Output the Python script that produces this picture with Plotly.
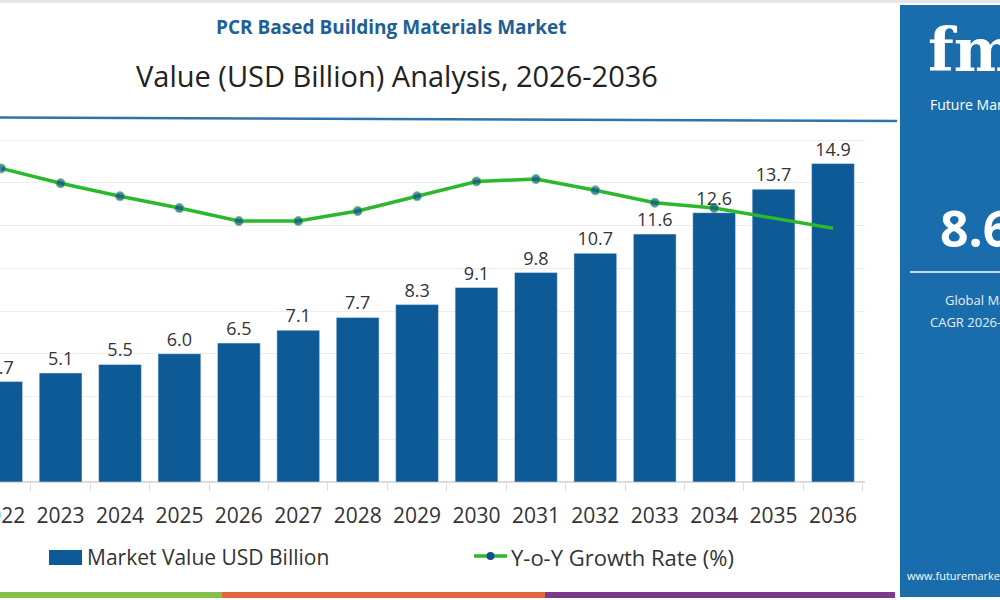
import plotly.graph_objects as go

years = [str(y) for y in range(2022, 2037)]
market_value = [4.7, 5.1, 5.5, 6.0, 6.5, 7.1, 7.7, 8.3, 9.1, 9.8, 10.7, 11.6, 12.6, 13.7, 14.9]
yoy_growth = [9.30, 9.05, 8.83, 8.63, 8.41, 8.41, 8.58, 8.83, 9.08, 9.12, 8.93, 8.72, 8.63, 8.46, 8.29]
value_labels = [f"{v:.1f}" for v in market_value]

title_text = "PCR Based Building Materials Market"
subtitle_text = "Value (USD Billion) Analysis, 2026-2036"
legend_bar = "Market Value USD Billion"
legend_line = "Y-o-Y Growth Rate (%)"
cagr_text = "8.6%"

BAR = "#0e5a97"
GREEN = "#2cb82c"
MARK = "#0c4f8c"
PANEL = "#1a6dac"
FONT = "Open Sans, Noto Sans, sans-serif"

W, H = 1000, 600
def py(y):
    return 1 - y / H
def px(x):
    return x / W

fig = go.Figure()
fig.add_trace(go.Bar(
    x=years, y=market_value, marker_color=BAR, name=legend_bar,
    text=value_labels, textposition="outside", cliponaxis=False,
    textfont=dict(size=18, color="#333333", family=FONT),
    showlegend=False,
))
marker_sizes = [9] * 13 + [0, 0]
fig.add_trace(go.Scatter(
    x=years, y=yoy_growth, yaxis="y2", mode="lines+markers", name=legend_line,
    line=dict(color=GREEN, width=3.5),
    marker=dict(color=MARK, size=marker_sizes),
    showlegend=False,
))

shapes = []
shapes.append(dict(type="line", xref="paper", yref="paper", x0=0, x1=px(897),
                   y0=py(117.5), y1=py(121), line=dict(color="#2f73ad", width=2.5)))
shapes.append(dict(type="rect", xref="paper", yref="paper", x0=0, x1=1, y0=py(3), y1=1,
                   fillcolor="#e6e6e6", line_width=0, layer="below"))
shapes.append(dict(type="rect", xref="paper", yref="paper", x0=px(900), x1=1.01,
                   y0=py(597), y1=py(5), fillcolor=PANEL, line_width=0))
shapes.append(dict(type="line", xref="paper", yref="paper", x0=px(910), x1=1.01,
                   y0=py(272), y1=py(272), line=dict(color="#c9dcec", width=2)))
for x0, x1, c in [(0, 222, "#86c04a"), (222, 545, "#e0653a"), (545, 895, "#7d3a8d")]:
    shapes.append(dict(type="rect", xref="paper", yref="paper", x0=px(x0), x1=px(x1),
                       y0=py(598), y1=py(592), fillcolor=c, line_width=0))
shapes.append(dict(type="rect", xref="paper", yref="paper", x0=px(49), x1=px(82),
                   y0=py(565), y1=py(550), fillcolor=BAR, line_width=0))
shapes.append(dict(type="line", xref="paper", yref="paper", x0=px(474), x1=px(507),
                   y0=py(556), y1=py(556), line=dict(color=GREEN, width=3.5)))
shapes.append(dict(type="circle", xref="paper", yref="paper", x0=px(486.5), x1=px(494.5),
                   y0=py(560), y1=py(552), fillcolor=MARK, line_width=0))

def ann(text, x, y, size, color, xanchor="center", family=FONT):
    return dict(text=text, x=px(x), y=py(y), xref="paper", yref="paper",
                xanchor=xanchor, yanchor="middle", showarrow=False,
                font=dict(size=size, color=color, family=family))

annotations = [
    ann(f"<b>{title_text}</b>", 391, 27, 19, "#1d5f96"),
    ann(subtitle_text, 397, 75, 29, "#222222"),
    ann(legend_bar, 85, 557, 21, "#333333", "left"),
    ann(legend_line, 509, 557, 22, "#333333", "left"),
    ann("<b>fmi</b>", 926, 50, 60, "white", "left", "DejaVu Serif, serif"),
    ann("Future Market Insights", 928, 104, 14, "white", "left"),
    ann(f"<b>{cagr_text}</b>", 938, 228, 50, "white", "left"),
    ann("Global Market", 943, 300, 13, "#e8eef5", "left"),
    ann("CAGR 2026-2036", 928, 322, 13, "#e8eef5", "left"),
    ann("www.futuremarketinsights.com", 905, 575, 11, "white", "left"),
]

fig.update_layout(
    width=W, height=H,
    margin=dict(l=0, r=0, t=0, b=0, autoexpand=False),
    paper_bgcolor="white", plot_bgcolor="white",
    bargap=0.28,
    showlegend=False,
    xaxis=dict(domain=[0, 0.865], range=[-0.02, 14.539], type="category",
               tickson="boundaries", ticks="outside", ticklen=8, tickcolor="#dddddd",
               showgrid=False, showline=False, automargin=False,
               ticklabelstandoff=19,
               tickfont=dict(size=21, color="#333333", family=FONT)),
    yaxis=dict(domain=[py(482), py(127)], range=[0, 16.61], dtick=2, tick0=0,
               showticklabels=False, gridcolor="#eeeeee", gridwidth=1, automargin=False,
               zeroline=True, zerolinecolor="#dddddd", showline=False),
    yaxis2=dict(overlaying="y", range=[4, 10], showticklabels=False, showgrid=False,
                zeroline=False, automargin=False),
    shapes=shapes,
    annotations=annotations,
)

fig.write_html("out.html")
